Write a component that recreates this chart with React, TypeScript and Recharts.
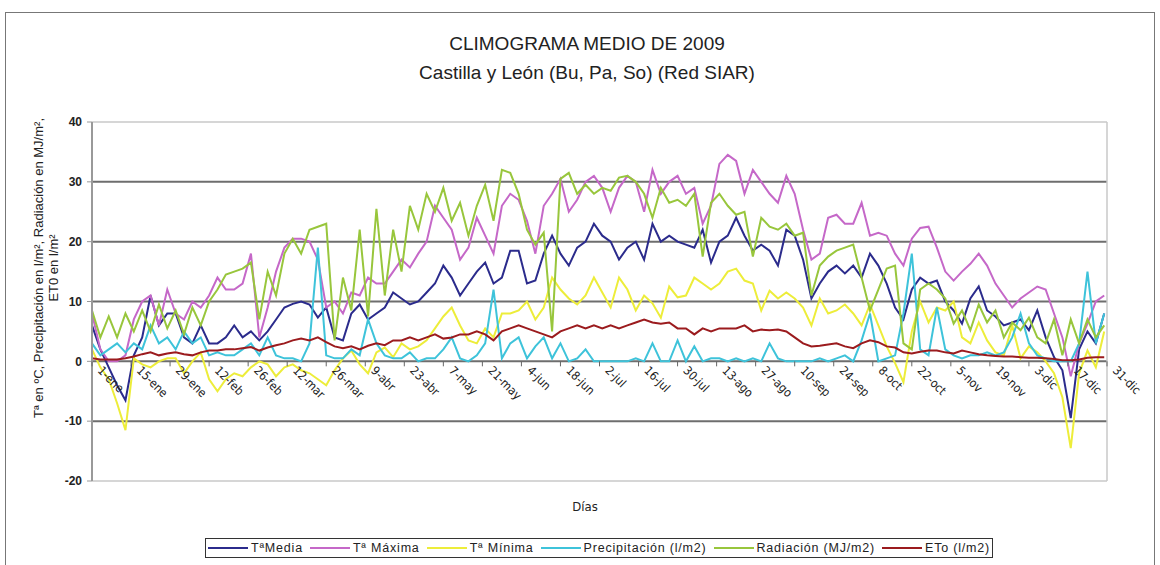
import { Line, LineChart, ReferenceLine, XAxis, YAxis } from "recharts"

// one sample every 3 days (1-ene, 4-ene, ...)
const tMedia = [
  6, 2, -1, -4, -6.5, 1, 4, 11, 6, 8,
  8, 4, 3, 6, 3, 3, 4, 6, 4, 5,
  3.5, 5, 7, 9, 9.6, 10, 9.5, 7.3, 9, 4,
  3.5, 8, 9.5, 7, 8, 9, 11.5, 10.5, 9.5, 10,
  11.5, 13, 16, 14, 11, 13, 15, 16.5, 13, 14,
  18.5, 18.5, 13, 13.5, 18, 21, 18, 16, 19, 20,
  23, 21, 20, 17, 19, 20, 17, 23, 20, 21,
  20, 19.5, 19, 22, 16.5, 20, 21, 24, 21, 18.5,
  19.5, 18.5, 16, 22, 21, 17, 10.5, 13, 15, 16,
  14.7, 16, 14, 18, 16, 13, 9, 7, 12, 14,
  13, 13.5, 10, 8.5, 6.3, 10.5, 12.5, 8.5, 7.5, 6,
  6.5, 7, 5.2, 8.5, 4, 0.7, -1.5, -9.5, 2, 5,
  3, 8,
]

const tMaxima = [
  8, 2, 0, 0, 1, 7, 10, 11, 6, 12,
  8, 7, 10, 9, 11, 14, 12, 12, 13, 18,
  4, 9, 15, 19, 20.5, 20.5, 20, 17, 9, 10,
  8, 11.5, 11, 14, 13, 13, 15, 17, 15.7, 18,
  20, 26, 24, 22, 17, 19, 24, 21, 18, 26,
  28, 27, 23.5, 18, 26, 28, 30.5, 25, 27, 30,
  31, 29, 25, 29, 31, 30, 25, 32, 28, 30,
  31, 28, 29, 23, 26, 33, 34.5, 33.5, 28, 32,
  30, 28, 26.5, 31, 28, 22, 17, 18, 24, 24.5,
  23, 23, 26.5, 21, 21.5, 21, 18, 16, 20.5, 22.3,
  22.5, 19, 15, 13.5, 15, 16.3, 18, 16, 13, 11,
  9, 10.5, 11.5, 12.5, 12, 8, 4, -2.5, 3, 6.3,
  10, 11,
]

const tMinima = [
  2, -1, -3, -7, -11.5, 0.5, -0.5, -1, 0, 0.5,
  0.5, -2, 0, 1.5, -3, -5, -3, -2, -2.5, -1,
  0, -0.5, -2.5, -1, -0.5, -1.5, -2, -3, -4, -1.5,
  0.5, 1.8, -0.5, -2, 1.5, 2.3, 0.7, 3, 2, 2.5,
  3.5, 5.5, 7.5, 9, 6, 3.5, 3, 5.5, 4, 8,
  8, 8.5, 10, 7, 9, 14, 12, 10.5, 9.5, 11,
  14, 11.5, 9, 14, 12, 8.5, 11, 9.7, 7.3, 12.5,
  10.7, 11, 14, 13, 12, 13, 15, 15.5, 13.5, 13,
  8.5, 11.8, 10.5, 11.5, 10.5, 9, 6, 10.5, 8, 8.5,
  9.5, 8, 6, 9.5, 6, 2.5, -0.3, -3.5, 5, 10,
  6.5, 9, 8.5, 10, 4, 3, 6.5, 3.5, 1.5, 1,
  6, 0.5, 2.5, 1.5, 0, -2, -6, -14.5, -2, 1.8,
  -1, 5,
]

const precipitacion = [
  3, 1, 2, 3, 1.5, 3, 2, 6, 3, 4,
  2, 5, 3, 4, 1, 1.5, 1, 1, 2, 3,
  1, 4, 1, 0.5, 0.5, 0, 3, 19, 1, 0.5,
  0.5, 2, 1, 7, 3, 1, 0.5, 0.5, 1.5, 0,
  0.5, 0.5, 2, 4, 0.5, 0, 1, 3, 12, 0.5,
  3, 4, 0.5, 2.5, 4, 0.5, 3, 0, 0.5, 2,
  0, 0, 0, 0, 0, 0.5, 0, 3, 0, 0,
  3.5, 0, 2.5, 0, 0.5, 0.5, 0, 0.5, 0, 0.5,
  0, 3, 0.5, 0, 0, 0, 0, 0.5, 0, 0.5,
  1, 0, 3.5, 8, 0, 0.5, 1, 8, 18, 2,
  1, 9, 2, 1, 0.5, 1, 1, 1.5, 1, 1.5,
  4, 8, 3, 1, 0.5, 0, 0, 0, 3, 15,
  3, 8,
]

const radiacion = [
  8.5, 4, 7.5, 4, 8, 5, 8.5, 5, 9.5, 5.5,
  8.5, 4.5, 9, 6, 10, 12, 14.5, 15, 15.5, 16.5,
  7, 15, 11, 18, 20.5, 18, 22, 22.5, 23, 3.5,
  14, 8.5, 22, 7.5, 25.5, 11, 22, 15, 26, 22,
  28, 25, 29, 23.5, 26.5, 21, 26, 29.5, 23.5, 32,
  31.5, 28, 22, 19.5, 21.5, 5, 30.5, 31.5, 28, 29.5,
  28, 29, 28.5, 30.7, 31, 30, 28, 24, 29, 26.5,
  27, 26, 28, 17.5, 26.5, 28, 26, 24.5, 25, 17.5,
  24, 22.5, 22, 23, 21, 21.5, 11, 16, 17.5, 18.5,
  19, 19.5, 14, 8.5, 12, 15.5, 16, 3, 2, 12,
  13, 12, 10.5, 6.3, 8.5, 5.2, 9.5, 6.5, 8.5, 4,
  6.5, 5.2, 7.3, 4, 3, 7, 1, 7, 3, 7,
  4, 6,
]

const eto = [
  0.5, 0.3, 0.3, 0.3, 0.5, 0.8, 1.2, 1.5, 1, 1.3,
  1.5, 1.2, 1, 1.5, 1.8, 1.8, 2, 2, 2.2, 2.4,
  1.8, 2.3, 2.7, 3, 3.5, 3.8, 3.5, 4, 3.2, 2.5,
  2.2, 2.5, 2, 2.6, 3, 2.7, 3.5, 3.5, 4, 3.5,
  4, 4.5, 3.8, 4, 4.5, 4.5, 5, 4.5, 3.5, 5,
  5.5, 6, 5.5, 5, 4.5, 4, 5, 5.5, 6, 5.5,
  6, 5.5, 6, 5.5, 6, 6.5, 7, 6.5, 6.3, 6.5,
  5.5, 5.5, 4.5, 5.5, 5, 5.5, 5.5, 5.5, 6, 5,
  5.3, 5.2, 5.3, 5, 4, 3, 2.5, 2.6, 2.8, 3,
  2.5, 2.2, 3, 3.5, 3.2, 2.5, 2.3, 1.5, 1.3, 1.6,
  1.8, 1.8, 1.5, 1.3, 1.8, 1.5, 1.2, 1, 0.9, 0.8,
  0.8, 0.7, 0.6, 0.6, 0.5, 0.4, 0.2, 0.2, 0.3, 0.6,
  0.7, 0.7,
]

const tickDays = [1, 15, 29, 43, 57, 71, 85, 99, 113, 127, 141, 155, 169, 183, 197, 211, 225, 239, 253, 267, 281, 295, 309, 323, 337, 351, 365]
const tickLabels = [
  "1-ene", "15-ene", "29-ene", "12-feb", "26-feb", "12-mar", "26-mar", "9-abr", "23-abr",
  "7-may", "21-may", "4-jun", "18-jun", "2-jul", "16-jul", "30-jul", "13-ago", "27-ago",
  "10-sep", "24-sep", "8-oct", "22-oct", "5-nov", "19-nov", "3-dic", "17-dic", "31-dic",
]
const yTicks = [-20, -10, 0, 10, 20, 30, 40]
const gridValues = [30, 20, 10, 0, -10]

const series = [
  { key: "media", name: "TªMedia", values: tMedia, color: "#2B2B8C" },
  { key: "maxima", name: "Tª Máxima", values: tMaxima, color: "#C568C8" },
  { key: "minima", name: "Tª Mínima", values: tMinima, color: "#EDED3A" },
  { key: "precip", name: "Precipitación (l/m2)", values: precipitacion, color: "#3EC3DA" },
  { key: "rad", name: "Radiación (MJ/m2)", values: radiacion, color: "#98C63C" },
  { key: "eto", name: "ETo (l/m2)", values: eto, color: "#9B1B1E" },
]

const data = tMedia.map((_, i) => {
  const row: Record<string, number> = { day: 1 + i * 3 }
  series.forEach((s) => (row[s.key] = s.values[i]))
  return row
})

const TOP = 122
const BOTTOM = 481
const ZERO_Y = TOP + ((BOTTOM - TOP) * 40) / 60
const narrow = "'Liberation Sans Narrow', 'DejaVu Sans Condensed', Arial, sans-serif"

const DayTick = (props: any) => {
  const { x, payload } = props
  const label = tickLabels[tickDays.indexOf(payload.value)]
  const tx = x + 5
  const ty = ZERO_Y + 10
  return (
    <g>
      <line x1={x} x2={x} y1={ZERO_Y} y2={ZERO_Y + 5} stroke="#666" />
      <text x={tx} y={ty} transform={`rotate(45 ${tx} ${ty})`} fontSize={12} fontFamily={narrow} fill="#222" textAnchor="start">
        {label}
      </text>
    </g>
  )
}

export default function App() {
  return (
    <div style={{ position: "absolute", left: 0, top: 0, width: 1160, height: 565, overflow: "hidden", background: "#fff", fontFamily: "Arial, sans-serif" }}>
      <div style={{ position: "absolute", left: 5, top: 12, width: 1150, height: 600, border: "1px solid #777", boxSizing: "border-box" }} />

      <div style={{ position: "absolute", left: 14, top: 29, width: 1146, textAlign: "center", fontSize: 19, lineHeight: "29px", color: "#222" }}>
        <div>CLIMOGRAMA MEDIO DE 2009</div>
        <div>Castilla y León (Bu, Pa, So) (Red SIAR)</div>
      </div>

      <svg width={1160} height={565} style={{ position: "absolute", left: 0, top: 0 }}>
        <text x={38} y={268} transform="rotate(-90 38 268)" textAnchor="middle" dominantBaseline="central" fontSize={13} fontFamily="Arial" fill="#222">
          Tª en ºC, Precipitación en l/m², Radiación en MJ/m²,
        </text>
        <text x={53} y={268} transform="rotate(-90 53 268)" textAnchor="middle" dominantBaseline="central" fontSize={13} fontFamily="Arial" fill="#222">
          ET0 en l/m²
        </text>
      </svg>

      <div style={{ position: "absolute", left: 0, top: 0 }}>
        <LineChart width={1160} height={565} data={data} margin={{ top: TOP, right: 53, bottom: 565 - BOTTOM - 1, left: 0 }}>
          <XAxis
            dataKey="day"
            type="number"
            domain={[1, 365]}
            ticks={tickDays}
            interval={0}
            height={1}
            axisLine={false}
            tickLine={false}
            tick={<DayTick />}
            allowDataOverflow
          />
          <YAxis
            domain={[-20, 40]}
            ticks={yTicks}
            interval={0}
            width={92}
            tickSize={5}
            tickMargin={5}
            axisLine={{ stroke: "#999", strokeWidth: 2 }}
            tickLine={{ stroke: "#999" }}
            tick={{ fontSize: 12, fontWeight: "bold", fill: "#222", fontFamily: "Arial" }}
            allowDataOverflow
          />

          {gridValues.map((v) => (
            <ReferenceLine key={v} y={v} stroke="#6e6e6e" strokeWidth={2} />
          ))}
          <ReferenceLine y={40} stroke="#c8c8c8" strokeWidth={1.5} />
          <ReferenceLine y={-20} stroke="#c8c8c8" strokeWidth={1.5} />
          <ReferenceLine x={365} stroke="#c8c8c8" strokeWidth={1.5} />

          {series.map((s) => (
            <Line
              key={s.key}
              dataKey={s.key}
              name={s.name}
              type="linear"
              stroke={s.color}
              strokeWidth={2}
              dot={false}
              isAnimationActive={false}
            />
          ))}
        </LineChart>
      </div>

      <div style={{ position: "absolute", left: 553, top: 499, width: 64, textAlign: "center", fontSize: 13, fontFamily: narrow, color: "#222" }}>
        Días
      </div>

      <div
        style={{
          position: "absolute", left: 205, top: 538, width: 788, height: 20, boxSizing: "border-box",
          border: "1px solid #333", display: "flex", alignItems: "center", justifyContent: "space-between",
          padding: "0 2px", fontSize: 12.5, fontFamily: "Arial, sans-serif", color: "#222", letterSpacing: 0.8,
        }}
      >
        {series.map((s) => (
          <div key={s.key} style={{ display: "flex", alignItems: "center" }}>
            <span style={{ display: "inline-block", width: 40, height: 2, background: s.color, marginRight: 3 }} />
            <span>{s.name}</span>
          </div>
        ))}
      </div>
    </div>
  )
}
